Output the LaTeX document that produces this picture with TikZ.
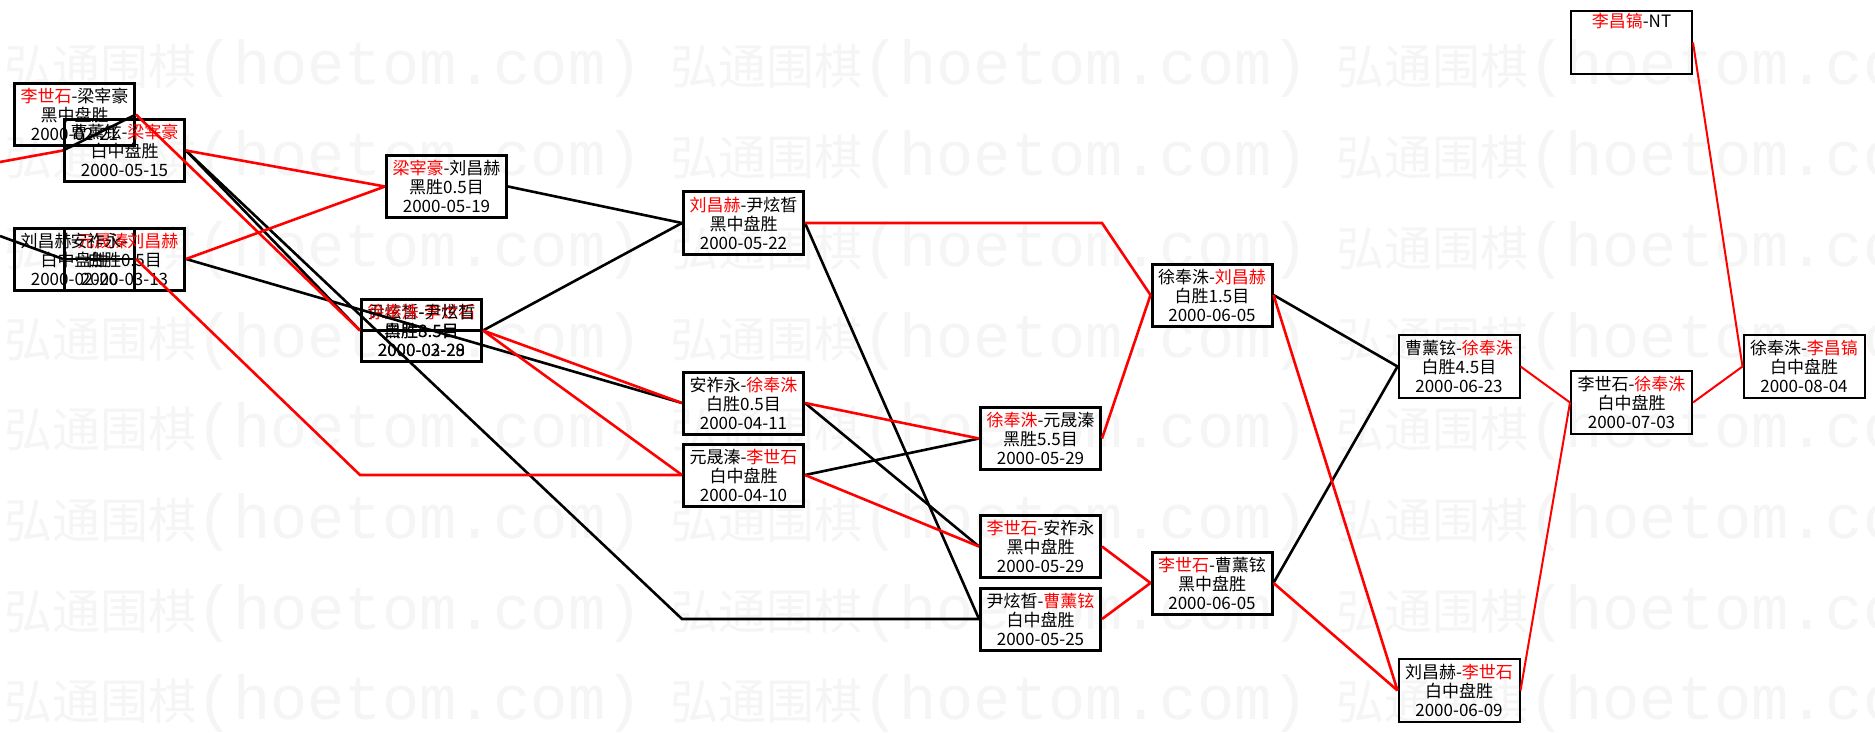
\documentclass[tikz,border=0pt]{standalone}
\usepackage{fontspec}
\newfontfamily\cjk{Noto Sans CJK SC}
\newfontfamily\wmmono{Liberation Mono}
\newcommand\rd[1]{\textcolor{red}{#1}}
\begin{document}
\begin{tikzpicture}[x=1pt,y=-1pt,
  gbox/.style={draw=black, line width=3pt, minimum width=120pt, minimum height=62pt,
    inner sep=0pt, align=center, font=\cjk\fontsize{17}{19}\selectfont},
  gboxr/.style={gbox, line width=2pt, minimum width=121pt, minimum height=63pt},
  wl/.style={red, line width=2.6pt},
  ll/.style={black, line width=2.6pt},
  wlr/.style={red, line width=2pt},
  wm/.style={anchor=base west, inner sep=0pt, text=black!4}]
\fill[white] (0,0) rectangle (1875,733);
\useasboundingbox (0,0) rectangle (1875,733);
% watermark
\foreach \r in {0,...,7}{
  \foreach \c in {4,670,1336}{
    \node[wm] at (\c,{85+90.7*\r}) {\cjk\fontsize{48}{48}\selectfont 弘通围棋\wmmono\fontsize{62}{62}\selectfont(hoetom.com)};
  }
}
% boxes
\node[gbox] (A) at (74.5,114.5) {\rd{李世石}-梁宰豪\\黑中盘胜\\2000-02-21};
\node[gbox] (B) at (124.5,150.5) {曹薰铉-\rd{梁宰豪}\\白中盘胜\\2000-05-15};
\node[gbox] (D) at (74.5,259) {刘昌赫-\rd{元晟溱}\\白中盘胜\\2000-02-20};
\node[gbox] (E) at (124.5,259) {安祚永-\rd{刘昌赫}\\白胜0.5目\\2000-03-13};
\node[gbox] (C) at (446.5,186.5) {\rd{梁宰豪}-刘昌赫\\黑胜0.5目\\2000-05-19};
\node[gbox] (F1) at (421.5,330.5) {尹炫晳-\rd{李世石}\\白胜3.5目\\2000-02-29};
\node[gbox] (F2) at (421.5,330.5) {\rd{徐奉洙}-尹炫晳\\黑胜8.5目\\2000-03-28};
\node[gbox] (G1) at (743.5,223) {\rd{刘昌赫}-尹炫晳\\黑中盘胜\\2000-05-22};
\node[gbox] (G2) at (743.5,403) {安祚永-\rd{徐奉洙}\\白胜0.5目\\2000-04-11};
\node[gbox] (G3) at (743.5,475) {元晟溱-\rd{李世石}\\白中盘胜\\2000-04-10};
\node[gbox] (H1) at (1040.5,438.5) {\rd{徐奉洙}-元晟溱\\黑胜5.5目\\2000-05-29};
\node[gbox] (H2) at (1040.5,546.5) {\rd{李世石}-安祚永\\黑中盘胜\\2000-05-29};
\node[gbox] (H3) at (1040.5,619) {尹炫晳-\rd{曹薰铉}\\白中盘胜\\2000-05-25};
\node[gbox] (I1) at (1212,295) {徐奉洙-\rd{刘昌赫}\\白胜1.5目\\2000-06-05};
\node[gbox] (I2) at (1212,583) {\rd{李世石}-曹薰铉\\黑中盘胜\\2000-06-05};
\node[gboxr] (J1) at (1459,366.5) {曹薰铉-\rd{徐奉洙}\\白胜4.5目\\2000-06-23};
\node[gboxr] (J2) at (1459,690.5) {刘昌赫-\rd{李世石}\\白中盘胜\\2000-06-09};
\node[gboxr] (K1) at (1631.5,402.5) {李世石-\rd{徐奉洙}\\白中盘胜\\2000-07-03};
\node[gboxr] (NT) at (1631.5,42.5) {\rd{李昌镐}-NT\\\strut\\\strut};
\node[gboxr] (L) at (1804,366.5) {徐奉洙-\rd{李昌镐}\\白中盘胜\\2000-08-04};
% free ends at the left border
\coordinate (inR) at (0,162);
\coordinate (inB) at (0,236);
% connectors
\draw[wl] (inR) -- (B.west);
\draw[ll] (inB) -- (E.west);
\draw[ll] (A.east) -- (B.west);
\draw[ll] (D.east) -- (E.west);
\draw[ll] (B.east) -- (F1.west);
\draw[ll] (B.east) -- (G3.west |- H3.west) -- (H3.west);
\draw[ll] (E.east) -- (G2.west);
\draw[ll] (F1.east) -- (F2.west);
\draw[ll] (C.east) -- (G1.west);
\draw[ll] (F2.east) -- (G1.west);
\draw[ll] (G1.east) -- (H3.west);
\draw[ll] (G2.east) -- (H2.west);
\draw[ll] (G3.east) -- (H1.west);
\draw[ll] (I1.east) -- (J1.west);
\draw[ll] (I2.east) -- (J1.west);
\draw[wl] (A.east) -- (F1.west);
\draw[wl] (B.east) -- (C.west);
\draw[wl] (E.east) -- (C.west);
\draw[wl] (D.east) -- (F1.west |- G3.west) -- (G3.west);
\draw[wl] (F2.east) -- (G2.west);
\draw[wl] (F2.east) -- (G3.west);
\draw[wl] (G1.east) -- (H1.east |- G1.east) -- (I1.west);
\draw[wl] (G2.east) -- (H1.west);
\draw[wl] (G3.east) -- (H2.west);
\draw[wl] (H1.east) -- (I1.west);
\draw[wl] (H2.east) -- (I2.west);
\draw[wl] (H3.east) -- (I2.west);
\draw[wl] (I1.east) -- (J2.west);
\draw[wl] (I2.east) -- (J2.west);
\draw[wlr] (J1.east) -- (K1.west);
\draw[wlr] (J2.east) -- (K1.west);
\draw[wlr] (K1.east) -- (L.west);
\draw[wlr] (NT.east) -- (L.west);
\end{tikzpicture}
\end{document}
